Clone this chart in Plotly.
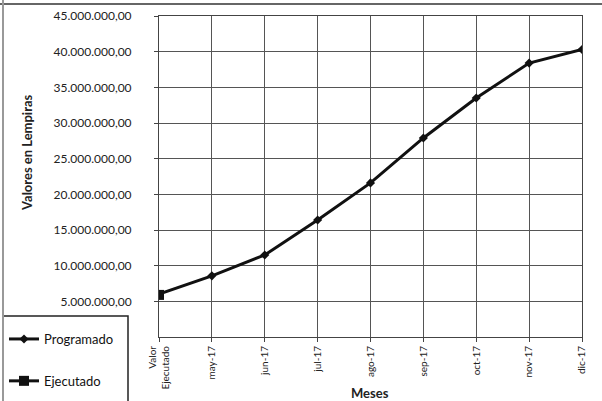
import plotly.graph_objects as go

categories = ["Valor<br>Ejecutado", "may-17", "jun-17", "jul-17", "ago-17", "sep-17", "oct-17", "nov-17", "dic-17"]
programado = [6000000, 8570000, 11500000, 16400000, 21600000, 27900000, 33500000, 38400000, 40300000]
ejecutado_cats = ["Valor<br>Ejecutado"]
ejecutado = [5900000]
y_ticks = [5000000, 10000000, 15000000, 20000000, 25000000, 30000000, 35000000, 40000000, 45000000]

FONT = "Lato"
W, H = 602, 401
L, R, T, B = 159, 20, 16, 64
pw, ph = W - L - R, H - T - B

def px(x):
    return (x - L) / pw

def py(y):
    return (H - B - y) / ph

fig = go.Figure()
fig.add_trace(go.Scatter(
    x=categories, y=programado, name="Programado", mode="lines+markers",
    line=dict(color="#111111", width=3),
    marker=dict(symbol="diamond", size=7, color="#111111"),
    legendgroup="a",
))
fig.add_trace(go.Scatter(
    x=ejecutado_cats, y=ejecutado, name="Ejecutado", mode="lines+markers",
    line=dict(color="#111111", width=3),
    marker=dict(symbol="square", size=10, color="#111111"),
    legendgroup="b",
))

fig.update_layout(
    width=W, height=H,
    margin=dict(l=L, r=R, t=T, b=B, autoexpand=False),
    paper_bgcolor="white", plot_bgcolor="white",
    separators=",.",
    font=dict(family=FONT, size=11, color="#222222"),
    showlegend=True,
    legend=dict(
        xref="container", yref="container",
        x=4 / W, y=1 - 324 / H, xanchor="left", yanchor="top",
        bgcolor="rgba(0,0,0,0)", borderwidth=0,
        font=dict(family=FONT, size=13, color="#111111"),
        traceorder="grouped", tracegroupgap=22,
        itemwidth=30,
    ),
    xaxis=dict(
        type="category", categoryorder="array", categoryarray=categories,
        range=[0, len(categories) - 1],
        automargin=False,
        showgrid=True, gridcolor="#555555", gridwidth=1,
        showline=True, linecolor="#444444", linewidth=1, mirror=True,
        ticks="outside", ticklen=4, tickcolor="#444444",
        tickangle=-90, tickfont=dict(family=FONT, size=10, color="#222222"),
        zeroline=False,
    ),
    yaxis=dict(
        range=[0, 45000000],
        automargin=False,
        tickvals=y_ticks, tickformat=",.2f",
        showgrid=True, gridcolor="#555555", gridwidth=1,
        showline=True, linecolor="#444444", linewidth=1, mirror=True,
        ticks="outside", ticklen=4, tickcolor="#444444",
        ticklabelstandoff=20,
        tickfont=dict(family=FONT, size=12, color="#222222"),
        zeroline=False,
    ),
    annotations=[
        dict(text="<b>Valores en Lempiras</b>", xref="paper", yref="paper",
             x=px(27), y=py(153), textangle=-90, showarrow=False,
             xanchor="center", yanchor="middle",
             font=dict(family=FONT, size=13, color="#222222")),
        dict(text="<b>Meses</b>", xref="paper", yref="paper",
             x=px(370), y=py(393), showarrow=False,
             xanchor="center", yanchor="middle",
             font=dict(family=FONT, size=13, color="#222222")),
    ],
    shapes=[
        dict(type="rect", xref="paper", yref="paper", x0=px(3), x1=px(128), y0=py(402), y1=py(316),
             line=dict(color="#222222", width=1.5), fillcolor="rgba(0,0,0,0)", layer="above"),
        dict(type="line", xref="paper", yref="paper", x0=px(0), x1=px(602), y0=py(4), y1=py(4),
             line=dict(color="#333333", width=1.5)),
        dict(type="line", xref="paper", yref="paper", x0=px(3), x1=px(3), y0=py(0), y1=py(401),
             line=dict(color="#999999", width=2)),
    ],
)

fig.write_html("out.html", config={"displayModeBar": False},
               post_script="document.body.style.margin='0';document.body.style.overflow='hidden';")
